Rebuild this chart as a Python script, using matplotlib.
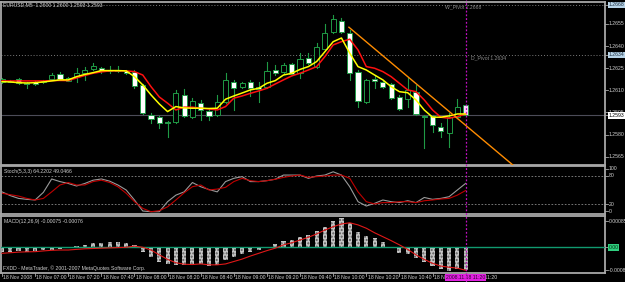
import numpy as np
import matplotlib
matplotlib.use("Agg")
import matplotlib.pyplot as plt
import matplotlib.transforms as mtransforms
from matplotlib.patches import Rectangle
from matplotlib.lines import Line2D

plt.rcParams['font.family'] = ['Liberation Sans', 'DejaVu Sans']

# EURUSD M5, 18 Nov 2008, bars from 06:40 to 11:20
opens = [1.26157, 1.26164, 1.26179, 1.26150, 1.26157, 1.26157, 1.26177, 1.26209, 1.26166, 1.26193,
         1.26216, 1.26245, 1.26250, 1.26232, 1.26238, 1.26232, 1.26227, 1.26137, 1.25933, 1.25918,
         1.25886, 1.25888, 1.26069, 1.25918, 1.26017, 1.25960, 1.25933, 1.26023, 1.26159, 1.26125,
         1.26159, 1.26125, 1.26125, 1.26238, 1.26227, 1.26279, 1.26220, 1.26318, 1.26261, 1.26379,
         1.26498, 1.26571, 1.26487, 1.26227, 1.26019, 1.26177, 1.26159, 1.26143, 1.26057, 1.26040,
         1.26091, 1.25924, 1.25927, 1.25850, 1.25813, 1.25922, 1.26000]
highs = [1.26184, 1.26171, 1.26184, 1.26157, 1.26164, 1.26171, 1.26220, 1.26227, 1.26191, 1.26252,
         1.26261, 1.26288, 1.26261, 1.26266, 1.26266, 1.26238, 1.26235, 1.26143, 1.25947, 1.25927,
         1.25893, 1.26103, 1.26110, 1.26047, 1.26035, 1.25974, 1.26069, 1.26220, 1.26171, 1.26157,
         1.26171, 1.26159, 1.26295, 1.26272, 1.26288, 1.26286, 1.26352, 1.26356, 1.26419, 1.26550,
         1.26611, 1.26591, 1.26510, 1.26238, 1.26177, 1.26204, 1.26171, 1.26150, 1.26066, 1.26193,
         1.26137, 1.25933, 1.25933, 1.25877, 1.25947, 1.26040, 1.26000]
lows = [1.26150, 1.26157, 1.26143, 1.26116, 1.26137, 1.26150, 1.26171, 1.26171, 1.26164, 1.26159,
        1.26171, 1.26238, 1.26216, 1.26216, 1.26225, 1.26211, 1.26116, 1.25943, 1.25877, 1.25843,
        1.25782, 1.25882, 1.25920, 1.25913, 1.25899, 1.25899, 1.25927, 1.26015, 1.25967, 1.26116,
        1.26062, 1.26023, 1.26116, 1.26204, 1.26218, 1.26204, 1.26182, 1.26279, 1.26252, 1.26374,
        1.26489, 1.26489, 1.26171, 1.25990, 1.26015, 1.26114, 1.26116, 1.26042, 1.25967, 1.25990,
        1.25933, 1.25710, 1.25820, 1.25786, 1.25718, 1.25916, 1.25930]
closes = [1.26177, 1.26160, 1.26148, 1.26140, 1.26143, 1.26164, 1.26204, 1.26177, 1.26184, 1.26218,
          1.26238, 1.26266, 1.26234, 1.26228, 1.26230, 1.26216, 1.26130, 1.25949, 1.25904, 1.25877,
          1.25881, 1.26080, 1.25927, 1.26030, 1.25967, 1.25927, 1.26019, 1.26171, 1.26114, 1.26148,
          1.26114, 1.26110, 1.26232, 1.26216, 1.26272, 1.26211, 1.26311, 1.26288, 1.26396, 1.26487,
          1.26582, 1.26498, 1.26220, 1.26030, 1.26171, 1.26166, 1.26125, 1.26047, 1.25974, 1.26103,
          1.25940, 1.25920, 1.25865, 1.25827, 1.25922, 1.25986, 1.25930]

ma_fast = [1.26159, 1.26157, 1.26152, 1.26150, 1.26152, 1.26157, 1.26164, 1.26171, 1.26171, 1.26193,
           1.26208, 1.26220, 1.26234, 1.26234, 1.26234, 1.26232, 1.26193, 1.26137, 1.26069, 1.26008,
           1.25956, 1.25990, 1.25981, 1.25979, 1.25979, 1.25977, 1.25979, 1.26040, 1.26062, 1.26082,
           1.26103, 1.26114, 1.26148, 1.26166, 1.26204, 1.26216, 1.26242, 1.26261, 1.26295, 1.26362,
           1.26430, 1.26455, 1.26352, 1.26261, 1.26238, 1.26204, 1.26171, 1.26125, 1.26091, 1.26084,
           1.26035, 1.25967, 1.25918, 1.25918, 1.25927, 1.25940, 1.25940]
ma_slow = [1.26164, 1.26164, 1.26164, 1.26164, 1.26164, 1.26164, 1.26166, 1.26167, 1.26166, 1.26184,
           1.26201, 1.26216, 1.26225, 1.26232, 1.26232, 1.26232, 1.26227, 1.26204, 1.26125, 1.26055,
           1.26013, 1.25967, 1.25986, 1.25986, 1.25979, 1.25974, 1.25967, 1.25990, 1.26047, 1.26062,
           1.26080, 1.26096, 1.26114, 1.26143, 1.26171, 1.26198, 1.26216, 1.26238, 1.26261, 1.26329,
           1.26408, 1.26430, 1.26447, 1.26374, 1.26261, 1.26250, 1.26227, 1.26193, 1.26148, 1.26103,
           1.26091, 1.26035, 1.25967, 1.25918, 1.25911, 1.25922, 1.25940]

stoch_main = [46, 38, 32, 30, 28.6, 45, 73.6, 68, 64, 58.6, 64, 71, 73.6, 69, 60.7, 50, 28.6, 5, 3.5, 3.5,
              25, 39, 46, 66, 57, 51, 46, 68, 75, 78.6, 68, 68, 70, 73, 82, 82, 82, 75, 80, 82,
              89, 82, 57, 25, 15.7, 21.4, 28.6, 25, 23, 27, 23, 34, 30, 32, 35.7, 50, 64.2]
stoch_signal = [43, 40, 37, 32, 28.6, 32, 46, 60.7, 66, 60.7, 60.7, 68, 71, 66, 57, 43, 25, 10.7, 3.5, 5.7,
                14, 28.6, 44, 57, 60.7, 50, 52, 55.7, 68, 75, 70, 68, 70, 73, 77, 80, 82, 77, 78.6, 80,
                82, 82, 75, 46, 25, 20, 23, 23, 25, 25, 23, 27, 28.6, 30.7, 32, 39, 49.0]

macd_hist = [-0.000145, -0.000145, -0.00012, -0.00014, -0.00012, -0.0001, -0.00009, -0.00007, -0.00003, 0.00004,
             0.00008, 0.00013, 0.00015, 0.00018, 0.00018, 0.00015, 0.00008, -0.000145, -0.00033, -0.00047,
             -0.00056, -0.00058, -0.00058, -0.00058, -0.00056, -0.00062, -0.00058, -0.00042, -0.00031, -0.00022,
             -0.00015, -0.00009, -0.00001, 0.00011, 0.00022, 0.00024, 0.00033, 0.00041, 0.00055, 0.00068,
             0.00087, 0.00096, 0.00079, 0.00052, 0.00037, 0.0003, 0.00019, 0.00002, -0.00018, -0.00022,
             -0.00036, -0.0005, -0.00062, -0.00073, -0.00077, -0.00073, -0.00075]
macd_signal = [-0.0002, -0.00018, -0.00016, -0.00015, -0.000145, -0.00012, -0.0001, -0.00009, -0.00009, -0.00007,
               -0.00005, -0.00004, -0.00003, -0.00002, -0.00001, 0.0, 0.00004, 0.0, -0.00009, -0.00025,
               -0.0004, -0.00051, -0.00056, -0.00057, -0.00055, -0.00058, -0.00058, -0.00055, -0.00047, -0.00039,
               -0.00029, -0.0002, -0.00011, -0.00003, 0.00008, 0.00015, 0.00024, 0.00033, 0.00044, 0.00057,
               0.00068, 0.00077, 0.00081, 0.00074, 0.00063, 0.00048, 0.00035, 0.00022, 0.00008, -0.00007,
               -0.00025, -0.0004, -0.00053, -0.00062, -0.00066, -0.00069, -0.00076]

trend_x = [41.9, 61.7]
trend_y = [1.26528, 1.25594]

w_pivot = 1.2668
d_pivot = 1.2634
last_price = 1.2593
price_ticks = [1.2655, 1.2640, 1.2625, 1.2610, 1.2595, 1.2580, 1.2565]
time_labels = ["18 Nov 2008", "18 Nov 07:00", "18 Nov 07:20", "18 Nov 07:40", "18 Nov 08:00",
               "18 Nov 08:20", "18 Nov 08:40", "18 Nov 09:00", "18 Nov 09:20", "18 Nov 09:40",
               "18 Nov 10:00", "18 Nov 10:20", "18 Nov 10:40", "18 Nov 11:00", "18 Nov 11:20"]
time_label_bars = [0, 4, 8, 12, 16, 20, 24, 28, 32, 36, 40, 44, 48, 52, 56]

W, H = 625, 282
FS = 3.7
BORDER = '#a8a8a8'
TXT = '#d0d0d0'
GREEN = '#1f9a45'

fig = plt.figure(figsize=(W / 100, H / 100), dpi=100, facecolor='black')


def px_axes(x0, y0, x1, y1):
    a = fig.add_axes([x0 / W, 1 - y1 / H, (x1 - x0) / W, (y1 - y0) / H])
    a.set_facecolor('black')
    for s in a.spines.values():
        s.set_color(BORDER)
        s.set_linewidth(1.3)
    a.set_xticks([])
    a.set_yticks([])
    a.set_xlim(-0.12, 72.83)
    return a


def fig_text(x, y, s, **kw):
    fig.text(x / W, 1 - y / H, s, fontsize=FS, color=TXT, va='center', ha='left', **kw)


def right_label(a, y, s, box=None, tcolor=TXT):
    tr = a.get_yaxis_transform()
    a.plot([1.0, 1.005], [y, y], color=BORDER, lw=0.6, transform=tr, clip_on=False)
    kw = {}
    if box is not None:
        kw['bbox'] = dict(boxstyle='square,pad=0.15', facecolor=box, edgecolor='none')
    a.text(1.006, y, s, transform=tr, fontsize=FS, color=tcolor, va='center', ha='left',
           clip_on=False, **kw)


bars = np.arange(len(opens))

# ---- main price panel
ax = px_axes(1, 2, 605, 165)
ax.set_ylim(1.25594, 1.26699)

ax.axhline(w_pivot, color='#7a7a7a', lw=0.7, ls=(0, (1, 2)))
ax.axhline(d_pivot, color='#7a7a7a', lw=0.7, ls=(0, (1, 2)))
ax.axhline(last_price, color='#4c4c58', lw=0.8)
ax.text(53.5, w_pivot, "W_Pivot 1.2668", fontsize=FS, color='#8a8a8a', va='top', ha='left')
ax.text(56.6, d_pivot, "D_Pivot 1.2634", fontsize=FS, color='#8a8a8a', va='top', ha='left')

body_w = 0.62
for i in bars:
    o, h, l, c = opens[i], highs[i], lows[i], closes[i]
    ax.plot([i, i], [l, h], color=GREEN, lw=0.8, zorder=2)
    face = 'black' if c >= o else 'white'
    if i == bars[-1]:
        face = '#ffd0ff'
    bottom = min(o, c)
    height = max(abs(c - o), 0.00002)
    ax.add_patch(Rectangle((i - body_w / 2, bottom), body_w, height, facecolor=face,
                           edgecolor=GREEN, lw=0.7, zorder=3))

ax.plot(bars, ma_slow, color='#ff1010', lw=1.1, zorder=4)
ax.plot(bars, ma_fast, color='#ffff00', lw=1.1, zorder=5)
ax.plot(trend_x, trend_y, color='#ff8c00', lw=1.0, zorder=6)

for p in price_ticks:
    right_label(ax, p, f"{p:.4f}")
right_label(ax, w_pivot, "1.2668", box='#b8d4e8', tcolor='#203040')
right_label(ax, d_pivot, "1.2634", box='#b8d4e8', tcolor='#203040')
right_label(ax, last_price, "1.2593", box='white', tcolor='black')

fig_text(3, 5, "EURUSD,M5  1.2600 1.2600 1.2593 1.2593")

# ---- stochastic panel
ax_st = px_axes(1, 166, 605, 214)
ax_st.set_ylim(-1.4, 101.4)
ax_st.axhline(80, color='#8a8a8a', lw=0.6, ls=(0, (2, 2)))
ax_st.axhline(20, color='#8a8a8a', lw=0.6, ls=(0, (2, 2)))
ax_st.plot(bars, stoch_main, color='#9a9a9a', lw=0.8)
ax_st.plot(bars, stoch_signal, color='#c00000', lw=0.8)
for v, s in [(95, "100"), (80, "80"), (20, "20"), (5, "0")]:
    right_label(ax_st, v, s)
fig_text(4, 171, "Stoch(5,3,3) 64.2202 49.0466")

# ---- MACD panel
ax_md = px_axes(1, 216, 605, 273)
ax_md.set_ylim(-0.00085, 0.001034)
ax_md.bar(bars, macd_hist, width=0.5, color='#c4c4c4', edgecolor='#5a5a5a', hatch='.....',
          lw=0, zorder=2)
ax_md.axhline(0, color='#109a70', lw=1.0, zorder=3)
ax_md.plot(bars, macd_signal, color='#e01818', lw=0.8, zorder=4)
right_label(ax_md, 0.000859, "0.000859")
right_label(ax_md, 0.0, "0.00", box='#30d080', tcolor='#003010')
right_label(ax_md, -0.00076, "-0.00085")
fig_text(4, 221, "MACD(12,26,9) -0.00075 -0.00076")
fig_text(3, 268.5, "FXDD - MetaTrader, \u00a9 2001-2007 MetaQuotes Software Corp.")

# ---- time axis
tr_time = mtransforms.blended_transform_factory(ax_md.transData, fig.transFigure)
for b, s in zip(time_label_bars, time_labels):
    fig.add_artist(Line2D([b, b], [1 - 273 / H, 1 - 276 / H], color=BORDER, lw=0.6,
                          transform=tr_time))
    fig.text(b + 0.15, 1 - 277.5 / H, s, transform=tr_time, fontsize=FS, color=TXT,
             va='center', ha='left')
fig.text(bars[-1], 1 - 277.5 / H, "2008.11.18 11:20", transform=tr_time, fontsize=FS,
         color='#300030', va='center', ha='center',
         bbox=dict(boxstyle='square,pad=0.2', facecolor='#e020e0', edgecolor='none'))

# crosshair vertical line through all panels
fig.add_artist(Line2D([bars[-1], bars[-1]], [0, 1], color='#c010c0', lw=0.9,
                      ls=(0, (1.5, 1.5)), transform=tr_time, zorder=10))

fig.savefig("out.png", dpi=100, facecolor='black')
